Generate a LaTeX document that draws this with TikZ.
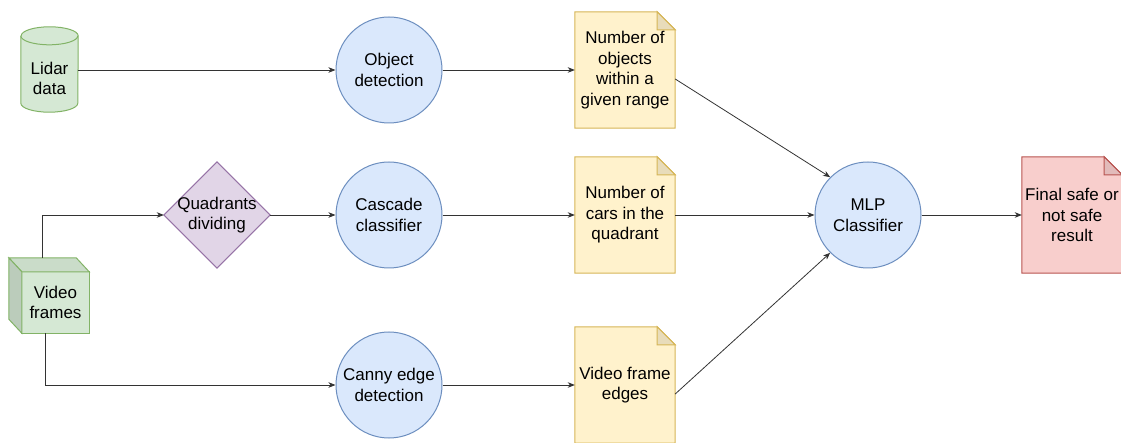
\documentclass[tikz,border=0pt]{standalone}
\usepackage{fontspec}
\setmainfont{Liberation Sans}
\usetikzlibrary{arrows.meta,backgrounds,calc}

\definecolor{gfill}{HTML}{D5E8D4}\definecolor{gline}{HTML}{82B366}
\definecolor{bfill}{HTML}{DAE8FC}\definecolor{bline}{HTML}{6C8EBF}
\definecolor{pfill}{HTML}{E1D5E7}\definecolor{pline}{HTML}{9673A6}
\definecolor{yfill}{HTML}{FFF2CC}\definecolor{yline}{HTML}{D6B656}
\definecolor{rfill}{HTML}{F8CECC}\definecolor{rline}{HTML}{B85450}

% folded-corner document outline drawn around a named node
\newcommand\docshape[3]{%
  \filldraw[fill=#2,draw=#3,line width=1pt,line join=miter]
    (#1.north west) -- ($(#1.north east)+(-18,0)$) -- ($(#1.north east)+(0,18)$)
    -- (#1.south east) -- (#1.south west) -- cycle;
  \filldraw[fill=#2!91!black,draw=#3,line width=1pt,line join=miter]
    ($(#1.north east)+(-18,0)$) -- ($(#1.north east)+(-18,18)$)
    -- ($(#1.north east)+(0,18)$) -- cycle;}

\begin{document}
\begin{tikzpicture}[x=1pt,y=-1pt,
  font=\fontsize{17}{20.6}\selectfont,
  every node/.style={align=center,inner sep=0pt},
  proc/.style={circle,draw=bline,fill=bfill,line width=1pt,minimum size=106pt},
  doc/.style={rectangle,minimum width=100pt,minimum height=116pt},
  link/.style={line width=0.8pt,draw=black!80,-{Stealth[length=7pt,width=5.5pt,inset=2pt]}}
]
\useasboundingbox (0,0) rectangle (1121,443);

% ---- nodes ----
\node[rectangle,minimum width=57pt,minimum height=67pt] (lidar) at (49.5,78.5) {Lidar\\data};
\node[rectangle,minimum width=67pt,minimum height=61pt] (vf) at (55.5,302.5) {Video\\frames};
\node[rectangle,minimum width=106pt,minimum height=106pt] (qd) at (217,215) {Quadrants\\dividing};

\node[proc] (od) at (389,70)  {Object\\detection};
\node[proc] (cc) at (389,215) {Cascade\\classifier};
\node[proc] (ce) at (389,385) {Canny edge\\detection};
\node[proc] (mlp) at (868,215) {MLP\\Classifier};

\node[doc] (n1) at (625,70)  {Number of\\objects\\within a\\given range};
\node[doc] (n2) at (625,215) {Number of\\cars in the\\quadrant};
\node[doc] (n3) at (625,385) {Video frame\\edges};
\node[doc] (fin) at (1072,215) {Final safe or\\not safe\\result};

% ---- shapes behind the labels ----
\begin{scope}[on background layer]
  % cylinder
  \filldraw[fill=gfill,draw=gline,line width=1pt]
    ($(lidar.north west)+(0,-9)$) -- ($(lidar.south west)+(0,-9)$)
    arc[start angle=180,end angle=360,x radius=28.5pt,y radius=9pt]
    -- ($(lidar.north east)+(0,-9)$)
    arc[start angle=0,end angle=180,x radius=28.5pt,y radius=9pt];
  \draw[gline,line width=1pt] ($(lidar.north west)+(0,-9)$)
    arc[start angle=180,end angle=360,x radius=28.5pt,y radius=9pt];
  % cube
  \filldraw[fill=gfill,draw=gline,line width=1pt,line join=miter]
    (vf.north west) rectangle (vf.south east);
  \filldraw[fill=gfill!95!black,draw=gline,line width=1pt,line join=miter]
    (vf.north west) -- ($(vf.north west)+(-13,-14)$) -- ($(vf.north east)+(-13,-14)$)
    -- (vf.north east) -- cycle;
  \filldraw[fill=gfill!88!black,draw=gline,line width=1pt,line join=miter]
    (vf.north west) -- ($(vf.north west)+(-13,-14)$) -- ($(vf.south west)+(-13,-14)$)
    -- (vf.south west) -- cycle;
  % diamond
  \filldraw[fill=pfill,draw=pline,line width=1pt,line join=miter]
    (qd.west) -- (qd.north) -- (qd.east) -- (qd.south) -- cycle;
  % documents
  \docshape{n1}{yfill}{yline}
  \docshape{n2}{yfill}{yline}
  \docshape{n3}{yfill}{yline}
  \docshape{fin}{rfill}{rline}
\end{scope}

% ---- connectors ----
\coordinate (vftop) at ($(vf.north west)+(21,-14)$);
\coordinate (vfbot) at ($(vf.south west)+(24,0)$);
\coordinate (n1out) at ($(n1.east)+(0,9)$);
\coordinate (n3out) at ($(n3.east)+(0,9)$);

\draw[link] ($(lidar.east)+(0,-8.5)$) -- (od.west);
\draw[link] (od.east) -- (n1.west);
\draw[link] (vftop) |- (qd.west);
\draw[link] (qd.east) -- (cc.west);
\draw[link] (cc.east) -- (n2.west);
\draw[link] (n2.east) -- (mlp.west);
\draw[link] (vfbot) |- (ce.west);
\draw[link] (ce.east) -- (n3.west);
\draw[link] (n1out) -- (mlp.135);
\draw[link] (n3out) -- (mlp.225);
\draw[link] (mlp.east) -- (fin.west);
\end{tikzpicture}
\end{document}
